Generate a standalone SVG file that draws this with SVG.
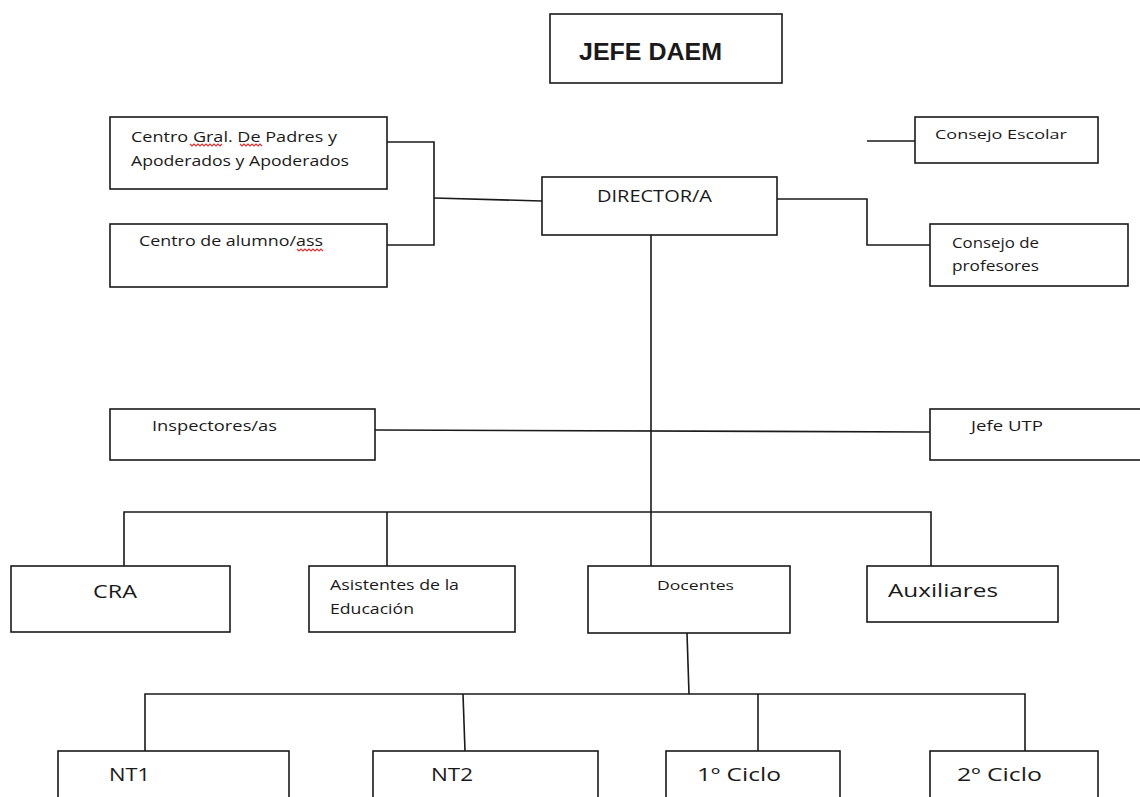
<svg xmlns="http://www.w3.org/2000/svg" width="1140" height="797" viewBox="0 0 1140 797">
<style>
.box{fill:#fff;stroke:#1a1a1a;stroke-width:1.6}
.t{font-family:"Open Sans","Liberation Sans",Arial,sans-serif;fill:#1a1a1a}
.b{font-family:"Liberation Sans",Arial,sans-serif;fill:#1a1a1a;font-weight:bold}
.ln{fill:none;stroke:#1a1a1a;stroke-width:1.6}
.sq{fill:none;stroke:#e03030;stroke-width:1.2}
</style>
<rect width="1140" height="797" fill="#fff"/>
<g id="connectors">
<polyline class="ln" points="387,142 434,142 434,245 387,245"/>
<polyline class="ln" points="434,198 542,201"/>
<polyline class="ln" points="867,141 915,141"/>
<polyline class="ln" points="777,199 867,199 867,245 930,245"/>
<polyline class="ln" points="651,235 651,566"/>
<polyline class="ln" points="375,430 930,432"/>
<polyline class="ln" points="124,566 124,512 931,512 931,566"/>
<polyline class="ln" points="387,512 387,566"/>
<polyline class="ln" points="687,633 689,694"/>
<polyline class="ln" points="145,751 145,694 1025,694 1025,751"/>
<polyline class="ln" points="463,694 465,751"/>
<polyline class="ln" points="758,694 758,751"/>
</g>
<g id="jefe-daem"><rect class="box" x="550" y="14" width="232" height="69"/><text class="b" x="579" y="60" font-size="23" textLength="143" lengthAdjust="spacingAndGlyphs">JEFE DAEM</text></g>
<g id="director"><rect class="box" x="542" y="177" width="235" height="58"/><text class="t" x="597" y="202" font-size="16" textLength="115" lengthAdjust="spacingAndGlyphs">DIRECTOR/A</text></g>
<g id="centro-padres"><rect class="box" x="110" y="117" width="277" height="72"/>
<text class="t" x="131" y="142" font-size="14" textLength="206" lengthAdjust="spacingAndGlyphs">Centro Gral. De Padres y</text>
<text class="t" x="131" y="166" font-size="14" textLength="218" lengthAdjust="spacingAndGlyphs">Apoderados y Apoderados</text>
<path class="sq" d="M190,144 l2,2 l2,-2 l2,2 l2,-2 l2,2 l2,-2 l2,2 l2,-2 l2,2 l2,-2 l2,2 l2,-2 l2,2 l2,-2 l2,2 l2,-2 M240,144 l2,2 l2,-2 l2,2 l2,-2 l2,2 l2,-2 l2,2 l2,-2 l2,2 l2,-2 l2,2"/>
</g>
<g id="centro-alumnos"><rect class="box" x="110" y="224" width="277" height="63"/>
<text class="t" x="139" y="246" font-size="14" textLength="184" lengthAdjust="spacingAndGlyphs">Centro de alumno/ass</text>
<path class="sq" d="M297,249 l2,2 l2,-2 l2,2 l2,-2 l2,2 l2,-2 l2,2 l2,-2 l2,2 l2,-2 l2,2 l2,-2 l2,2"/>
</g>
<g id="consejo-escolar"><rect class="box" x="915" y="117" width="183" height="46"/><text class="t" x="935" y="139" font-size="13" textLength="132" lengthAdjust="spacingAndGlyphs">Consejo Escolar</text></g>
<g id="consejo-profesores"><rect class="box" x="930" y="224" width="198" height="62"/>
<text class="t" x="952" y="248" font-size="14" textLength="87" lengthAdjust="spacingAndGlyphs">Consejo de</text>
<text class="t" x="952" y="271" font-size="14" textLength="87" lengthAdjust="spacingAndGlyphs">profesores</text></g>
<g id="inspectores"><rect class="box" x="110" y="409" width="265" height="51"/><text class="t" x="152" y="431" font-size="14" textLength="125" lengthAdjust="spacingAndGlyphs">Inspectores/as</text></g>
<g id="jefe-utp"><rect class="box" x="930" y="409" width="230" height="51"/><text class="t" x="971" y="431" font-size="14" textLength="72" lengthAdjust="spacingAndGlyphs">Jefe UTP</text></g>
<g id="cra"><rect class="box" x="11" y="566" width="219" height="66"/><text class="t" x="93" y="598" font-size="18" textLength="44" lengthAdjust="spacingAndGlyphs">CRA</text></g>
<g id="asistentes"><rect class="box" x="309" y="566" width="206" height="66"/>
<text class="t" x="330" y="590" font-size="14" textLength="129" lengthAdjust="spacingAndGlyphs">Asistentes de la</text>
<text class="t" x="330" y="614" font-size="14" textLength="84" lengthAdjust="spacingAndGlyphs">Educación</text></g>
<g id="docentes"><rect class="box" x="588" y="566" width="202" height="67"/><text class="t" x="657" y="590" font-size="13" textLength="77" lengthAdjust="spacingAndGlyphs">Docentes</text></g>
<g id="auxiliares"><rect class="box" x="867" y="566" width="191" height="56"/><text class="t" x="888" y="597" font-size="18" textLength="110" lengthAdjust="spacingAndGlyphs">Auxiliares</text></g>
<g id="nt1"><rect class="box" x="58" y="751" width="231" height="60"/><text class="t" x="109" y="781" font-size="19" textLength="41" lengthAdjust="spacingAndGlyphs">NT1</text></g>
<g id="nt2"><rect class="box" x="373" y="751" width="225" height="60"/><text class="t" x="431" y="781" font-size="19" textLength="42" lengthAdjust="spacingAndGlyphs">NT2</text></g>
<g id="ciclo1"><rect class="box" x="666" y="751" width="174" height="60"/><text class="t" x="697" y="781" font-size="19" textLength="84" lengthAdjust="spacingAndGlyphs">1º Ciclo</text></g>
<g id="ciclo2"><rect class="box" x="930" y="751" width="168" height="60"/><text class="t" x="957" y="781" font-size="19" textLength="85" lengthAdjust="spacingAndGlyphs">2º Ciclo</text></g>
</svg>
